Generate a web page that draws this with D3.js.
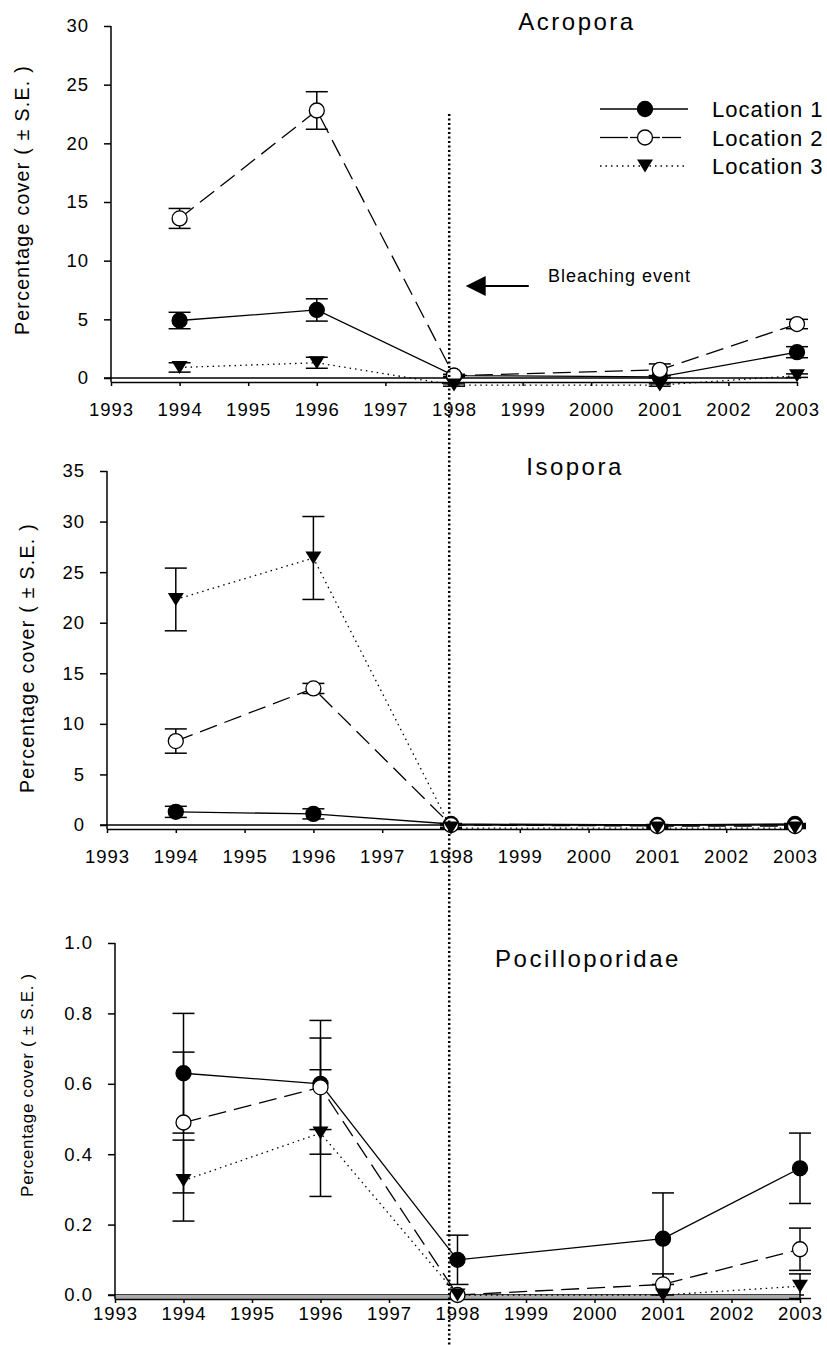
<!DOCTYPE html>
<html>
<head>
<meta charset="utf-8">
<script src="https://cdn.jsdelivr.net/npm/d3@7"></script>
<style>
  body { margin: 0; background: #fff; }
  svg { display: block; font-family: "Liberation Sans", Arial, sans-serif; }
</style>
</head>
<body>
<svg id="chart" width="827" height="1345"></svg>
<script>
// survey years and sites
var years = [1994, 1996, 1998, 2001, 2003];
var axisYears = d3.range(1993, 2004);
var locations = ["Location 1", "Location 2", "Location 3"];

// mean cover per location (rows = Location 1..3)
var acroporaMean = [[4.9, 5.8, 0.2, 0.1, 2.2], [13.6, 22.8, 0.2, 0.7, 4.6], [0.9, 1.3, -0.6, -0.6, 0.2]];
var acroporaSE   = [[0.7, 0.95, 0.1, 0.1, 0.47], [0.85, 1.6, 0.1, 0.5, 0.4], [0.4, 0.47, 0.1, 0.1, 0.15]];
var isoporaMean  = [[1.3, 1.1, 0.1, 0.0, 0.1], [8.3, 13.5, 0.0, -0.1, -0.1], [22.3, 26.4, -0.3, -0.3, -0.3]];
var isoporaSE    = [[0.55, 0.5, 0.05, 0.05, 0.05], [1.2, 0.5, 0.05, 0.05, 0.05], [3.1, 4.1, 0.05, 0.05, 0.05]];
var pociMean     = [[0.63, 0.60, 0.10, 0.16, 0.36], [0.49, 0.59, 0.0, 0.03, 0.13], [0.325, 0.46, 0.0, 0.0, 0.025]];
var pociSE       = [[0.17, 0.13, 0.07, 0.13, 0.10], [0.20, 0.19, 0.0, 0.03, 0.06], [0.115, 0.18, 0.0, 0.0, 0.035]];

var acroporaTicks = d3.range(0, 31, 5);
var isoporaTicks = d3.range(0, 36, 5);
var pociTicks = [0, 0.2, 0.4, 0.6, 0.8, 1.0];

var bleachYear = 1997.93;

var svg = d3.select("#chart");

var panels = [
    { name: "Acropora", mean: acroporaMean, se: acroporaSE, ticks: acroporaTicks, fmt: d3.format("d"),
      x0: 111, x1: 797, top: 26, bottom: 378, labGap: 17, titleX: 577, titleY: 30, ytX: 29, ytY: 200, ytSize: 19.5, ytLs: 1.3 },
    { name: "Isopora", mean: isoporaMean, se: isoporaSE, ticks: isoporaTicks, fmt: d3.format("d"),
      x0: 107, x1: 795, top: 471, bottom: 825, labGap: 17, titleX: 575, titleY: 475, ytX: 34, ytY: 658, ytSize: 19.5, ytLs: 1.3 },
    { name: "Pocilloporidae", mean: pociMean, se: pociSE, ticks: pociTicks, fmt: d3.format(".1f"),
      x0: 115, x1: 800, top: 943, bottom: 1295, labGap: 4, titleX: 588, titleY: 967, ytX: 33, ytY: 1085, ytSize: 17, ytLs: 0.7 }
];

var dashes = [null, "18,8", "1.5,4"];
var tri = "M-8,-6.5L8,-6.5L0,6.5Z";

panels.forEach(function (p, pi) {
    var x = d3.scaleLinear().domain([1993, 2003]).range([p.x0, p.x1]);
    var y = d3.scaleLinear().domain([0, d3.max(p.ticks)]).range([p.bottom, p.top]);
    var g = svg.append("g");
    p.x = x;
    p.y = y;

    // zero line and offset x axis
    g.append("line").attr("x1", p.x0 - 7).attr("x2", p.x1 + 4)
        .attr("y1", y(0)).attr("y2", y(0)).attr("stroke", "#000").attr("stroke-width", 1.5);
    if (pi == 2) {
        g.append("rect").attr("x", p.x0).attr("y", y(0)).attr("width", p.x1 - p.x0).attr("height", 4).attr("fill", "#aaa");
    }
    var xa = g.append("g").attr("transform", "translate(0," + (y(0) + 4) + ")")
        .call(d3.axisBottom(x).tickValues(axisYears).tickFormat(d3.format("d"))
            .tickSize(4).tickSizeOuter(0).tickPadding(p.labGap));
    xa.selectAll("path,line").attr("stroke-width", 1.5);
    xa.selectAll("text").attr("font-size", 18.5).attr("letter-spacing", 1).attr("font-family", null);

    var ya = g.append("g").attr("transform", "translate(" + p.x0 + ",0)")
        .call(d3.axisLeft(y).tickValues(p.ticks).tickFormat(p.fmt).tickSize(7).tickPadding(15));
    ya.select(".domain").remove();
    ya.selectAll("line").attr("stroke-width", 1.5);
    ya.selectAll("text").attr("font-size", 18.5).attr("letter-spacing", 1).attr("font-family", null);
    g.append("line").attr("x1", p.x0).attr("x2", p.x0).attr("y1", p.top).attr("y2", y(0) + 4)
        .attr("stroke", "#000").attr("stroke-width", 1.5);

    g.append("text").attr("transform", "translate(" + p.ytX + "," + p.ytY + ") rotate(-90)")
        .attr("text-anchor", "middle").attr("font-size", p.ytSize).attr("letter-spacing", p.ytLs)
        .text("Percentage cover ( \u00b1 S.E. )");

    g.append("text").attr("x", p.titleX).attr("y", p.titleY).attr("text-anchor", "middle")
        .attr("font-size", 24).attr("letter-spacing", 2.5).text(p.name);

    var line = d3.line().x(function (d, i) { return x(years[i]); }).y(function (d) { return y(d); });

    // error bars
    p.mean.forEach(function (ser, s) {
        ser.forEach(function (v, i) {
            var e = p.se[s][i];
            if (e <= 0) return;
            var cx = x(years[i]);
            var eb = g.append("g").attr("stroke", "#000").attr("stroke-width", 1.5);
            eb.append("line").attr("x1", cx).attr("x2", cx).attr("y1", y(v - e)).attr("y2", y(v + e));
            eb.append("line").attr("x1", cx - 11).attr("x2", cx + 11).attr("y1", y(v - e)).attr("y2", y(v - e));
            eb.append("line").attr("x1", cx - 11).attr("x2", cx + 11).attr("y1", y(v + e)).attr("y2", y(v + e));
        });
    });

    // series lines + markers
    p.mean.forEach(function (ser, s) {
        g.append("path").attr("d", line(ser)).attr("fill", "none").attr("stroke", "#000")
            .attr("stroke-width", 1.3).attr("stroke-dasharray", dashes[s]);
    });
    p.mean.forEach(function (ser, s) {
        ser.forEach(function (v, i) {
            var cx = x(years[i]), cy = y(v);
            if (s == 2) {
                g.append("path").attr("d", tri).attr("transform", "translate(" + cx + "," + cy + ")").attr("fill", "#000");
            } else {
                g.append("circle").attr("cx", cx).attr("cy", cy).attr("r", 7.5)
                    .attr("fill", s == 0 ? "#000" : "#fff").attr("stroke", "#000").attr("stroke-width", 1.3);
            }
        });
    });
});

// legend (top panel)
var leg = svg.append("g");
locations.forEach(function (name, s) {
    var ly = 109 + s * 28.5;
    if (s == 1) {
        leg.append("line").attr("x1", 600).attr("x2", 628).attr("y1", ly).attr("y2", ly).attr("stroke", "#000").attr("stroke-width", 1.3);
        leg.append("line").attr("x1", 630).attr("x2", 660).attr("y1", ly).attr("y2", ly).attr("stroke", "#000").attr("stroke-width", 1.3);
        leg.append("line").attr("x1", 662).attr("x2", 681).attr("y1", ly).attr("y2", ly).attr("stroke", "#000").attr("stroke-width", 1.3);
    } else {
        leg.append("line").attr("x1", 600).attr("x2", 688).attr("y1", ly).attr("y2", ly).attr("stroke", "#000")
            .attr("stroke-width", 1.3).attr("stroke-dasharray", dashes[s]);
    }
    if (s == 2) {
        leg.append("path").attr("d", tri).attr("transform", "translate(645," + ly + ")").attr("fill", "#000");
    } else {
        leg.append("circle").attr("cx", 645).attr("cy", ly).attr("r", 7.5)
            .attr("fill", s == 0 ? "#000" : "#fff").attr("stroke", "#000").attr("stroke-width", 1.3);
    }
    leg.append("text").attr("x", 712).attr("y", ly + 8).attr("font-size", 22).attr("letter-spacing", 1).text(name);
});

// bleaching marker
var first = panels[0];
var bx = first.x(bleachYear);
svg.append("line").attr("x1", bx).attr("x2", bx).attr("y1", first.y(22.5)).attr("y2", 1345)
    .attr("stroke", "#000").attr("stroke-width", 2.5).attr("stroke-dasharray", "2,2.5");
var ay = first.y(7.85);
svg.append("line").attr("x1", first.x(1998.28)).attr("x2", first.x(1999.09)).attr("y1", ay).attr("y2", ay)
    .attr("stroke", "#000").attr("stroke-width", 2);
svg.append("path").attr("d", "M" + first.x(1998.17) + "," + ay + "l20,-10l0,20z").attr("fill", "#000");
svg.append("text").attr("x", first.x(1999.37)).attr("y", first.y(8.2)).attr("font-size", 18).attr("letter-spacing", 1)
    .text("Bleaching event");
</script>
</body>
</html>
